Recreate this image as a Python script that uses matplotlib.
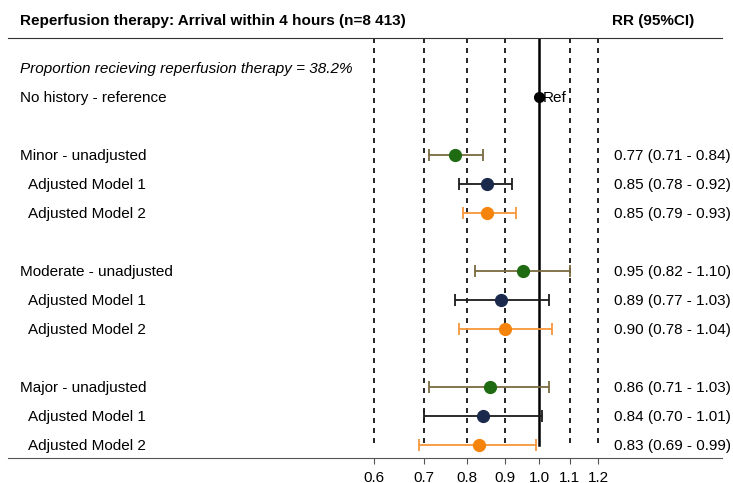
import numpy as np
import matplotlib.pyplot as plt
from matplotlib.transforms import blended_transform_factory

plt.rcParams['font.family'] = ['Liberation Sans', 'DejaVu Sans']

# Data
labels = ["Minor - unadjusted", "Adjusted Model 1", "Adjusted Model 2",
          "Moderate - unadjusted", "Adjusted Model 1", "Adjusted Model 2",
          "Major - unadjusted", "Adjusted Model 1", "Adjusted Model 2"]
rows = [3, 4, 5, 7, 8, 9, 11, 12, 13]
rr = [0.77, 0.85, 0.85, 0.95, 0.89, 0.90, 0.86, 0.84, 0.83]
lo = [0.71, 0.78, 0.79, 0.82, 0.77, 0.78, 0.71, 0.70, 0.69]
hi = [0.84, 0.92, 0.93, 1.10, 1.03, 1.04, 1.03, 1.01, 0.99]
model = [0, 1, 2, 0, 1, 2, 0, 1, 2]
ref_lines = [0.6, 0.7, 0.8, 0.9, 1.1, 1.2]
ticks = [0.6, 0.7, 0.8, 0.9, 1.0, 1.1, 1.2]

marker_colors = ["#1e6b12", "#1b2a4c", "#f5840c"]
bar_colors = ["#7a6a3e", "#1a1a1a", "#f7963a"]

FS = 11

fig = plt.figure(figsize=(7.33, 4.83), dpi=100)
W, H = 733, 483
ax = fig.add_axes([8 / W, 1 - 458 / H, (722 - 8) / W, (458 - 38) / H])
ax.set_xscale("log")
ax.set_xlim(0.193, 1.762)
ax.set_ylim(13.45, -1.03)

for sp in ["left", "right"]:
    ax.spines[sp].set_visible(False)
ax.spines["top"].set_color("#333333")
ax.spines["bottom"].set_color("#555555")
ax.set_yticks([])
ax.set_xticks(ticks)
ax.set_xticklabels(["%.1f" % t for t in ticks], fontsize=FS)
ax.minorticks_off()
ax.tick_params(axis="x", length=4, color="#555555", pad=5)

for x in ref_lines:
    ax.plot([x, x], [-1.03, 13], color="black", ls=(0, (3, 3)), lw=1.2)
ax.plot([1.0, 1.0], [-1.03, 13], color="black", lw=1.8)

# reference point
ax.plot(1.0, 1, "o", color="black", ms=7)
ax.text(1.01, 1, "Ref", va="center_baseline", ha="left", fontsize=FS)

for r, m, l, h, k in zip(rows, rr, lo, hi, model):
    ax.errorbar(m, r, xerr=[[m - l], [h - m]], fmt="none", ecolor=bar_colors[k],
                elinewidth=1.3, capsize=4, capthick=1.3)
    ax.plot(m, r, "o", color=marker_colors[k], ms=8.5)

tr = blended_transform_factory(fig.transFigure, ax.transData)
ax.text(20 / W, 0, "Proportion recieving reperfusion therapy = 38.2%",
        transform=tr, fontsize=FS, style="italic", va="center_baseline")
ax.text(20 / W, 1, "No history - reference", transform=tr, fontsize=FS,
        va="center_baseline")
for r, lab, m, l, h in zip(rows, labels, rr, lo, hi):
    x0 = 20 if "unadjusted" in lab else 28
    ax.text(x0 / W, r, lab, transform=tr, fontsize=FS, va="center_baseline")
    ax.text(614 / W, r, "%.2f (%.2f - %.2f)" % (m, l, h), transform=tr,
            fontsize=FS, va="center_baseline")

fig.text(20 / W, 1 - 19 / H, "Reperfusion therapy: Arrival within 4 hours (n=8 413)",
         fontsize=FS, weight="bold", va="center_baseline")
fig.text(612 / W, 1 - 19 / H, "RR (95%CI)", fontsize=FS, weight="bold",
         va="center_baseline")

fig.savefig("out.png", dpi=100, facecolor="white")
